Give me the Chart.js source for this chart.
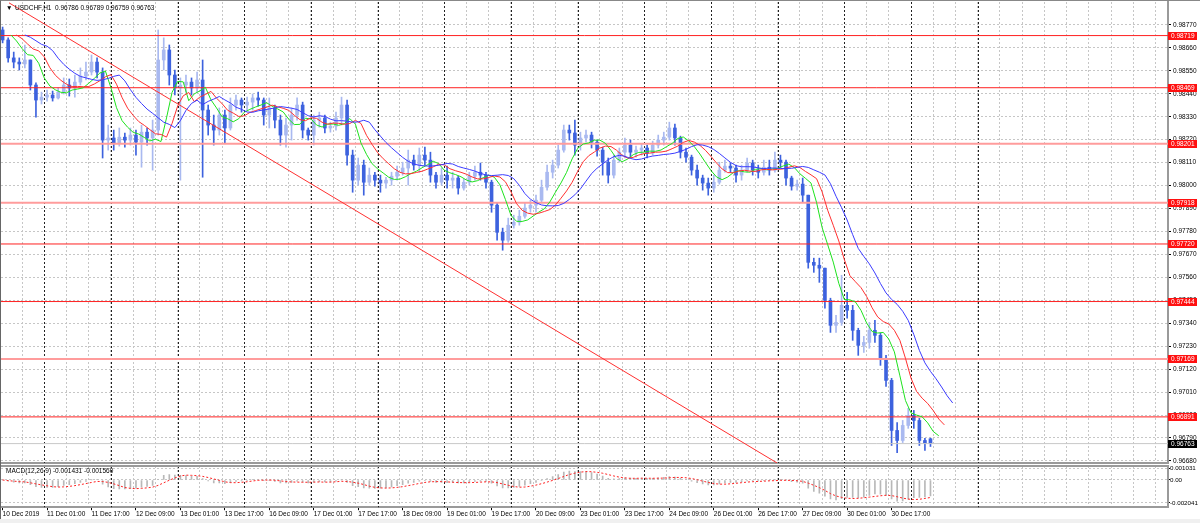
<!DOCTYPE html>
<html>
<head>
<meta charset="utf-8">
<script src="https://cdn.jsdelivr.net/npm/chart.js@4.4.1/dist/chart.umd.min.js"></script>
<style>
html, body { margin: 0; padding: 0; background: #fff; }
#wrap { position: relative; width: 1200px; height: 523px; overflow: hidden; background: #fff;
        font-family: "Liberation Sans", Arial, sans-serif; }
#main { position: absolute; left: 0; top: 0; }
#macd { position: absolute; left: 0; top: 465px; }
.lbl { position: absolute; font-size: 6.5px; line-height: 8px; color: #000; white-space: pre; }
#strip { position: absolute; left: 0; top: 519px; width: 1200px; height: 4px; background: #f0f0f0; }
#edge { position: absolute; left: 0; top: 0; width: 1199px; height: 518px; border-left: 1px solid #666; border-top: 1px solid #888; pointer-events: none; }
</style>
</head>
<body>
<div id="wrap">
  <canvas id="main" width="1200" height="465"></canvas>
  <canvas id="macd" width="1200" height="54"></canvas>
  <div class="lbl" style="left:6px;top:4px">▼</div>
  <div class="lbl" style="left:15px;top:4px">USDCHF,H1  0.96786 0.96789 0.96759 0.96763</div>
  <div class="lbl" style="left:6px;top:467px">MACD(12,26,9) -0.001431 -0.001560</div>
  <div id="strip"></div>
  <div id="edge"></div>
</div>
<script>
// USDCHF H1, 10 Dec 2019 09:00 .. 31 Dec, read as 2-hour candles

const tickLabels = ["10 Dec 2019", "11 Dec 01:00", "11 Dec 17:00", "12 Dec 09:00", "13 Dec 01:00",
    "13 Dec 17:00", "16 Dec 09:00", "17 Dec 01:00", "17 Dec 17:00", "18 Dec 09:00", "19 Dec 01:00",
    "19 Dec 17:00", "20 Dec 09:00", "23 Dec 01:00", "23 Dec 17:00", "24 Dec 09:00", "26 Dec 01:00",
    "26 Dec 17:00", "27 Dec 09:00", "30 Dec 01:00", "30 Dec 17:00"];

const priceTicks = [0.96680, 0.96790, 0.96900, 0.97010, 0.97120, 0.97230, 0.97340, 0.97450, 0.97560,
    0.97670, 0.97780, 0.97890, 0.98000, 0.98110, 0.98220, 0.98330, 0.98440, 0.98550, 0.98660, 0.98770];

const macdTicks = [0.001031, 0, -0.002041];

// horizontal levels drawn on the chart
const levels = [0.98719, 0.98469, 0.98201, 0.97918, 0.97720, 0.97444, 0.97169, 0.96891];
const lastPrice = 0.96763;

// trend line: [hour, price]
const trendLine = [[2.3, 0.98876], [278.8, 0.96670]];

const opens = [
    0.98746, 0.98698, 0.98612, 0.98592, 0.98583, 0.98602, 0.98482, 0.98410, 0.98424, 0.98434,
    0.98420, 0.98448, 0.98482, 0.98468, 0.98496, 0.98525, 0.98544, 0.98592, 0.98544, 0.98218,
    0.98228, 0.98204, 0.98232, 0.98218, 0.98242, 0.98208, 0.98256, 0.98228, 0.98266, 0.98602,
    0.98650, 0.98530, 0.98468, 0.98482, 0.98496, 0.98468, 0.98506, 0.98362, 0.98290, 0.98266,
    0.98338, 0.98276, 0.98386, 0.98410, 0.98386, 0.98400, 0.98420, 0.98410, 0.98338, 0.98372,
    0.98314, 0.98242, 0.98290, 0.98338, 0.98386, 0.98266, 0.98242, 0.98314, 0.98324, 0.98276,
    0.98285, 0.98324, 0.98386, 0.98146, 0.98026, 0.98098, 0.98016, 0.98050, 0.98026, 0.98012,
    0.98026, 0.98045, 0.98064, 0.98084, 0.98122, 0.98098, 0.98146, 0.98122, 0.98050, 0.98016,
    0.98050, 0.98026, 0.98036, 0.97988, 0.98016, 0.98045, 0.98064, 0.98050, 0.98016, 0.97906,
    0.97776, 0.97738, 0.97810, 0.97824, 0.97853, 0.97892, 0.97906, 0.97930, 0.97992, 0.98064,
    0.98098, 0.98170, 0.98266, 0.98252, 0.98194, 0.98228, 0.98242, 0.98208, 0.98170, 0.98112,
    0.98050, 0.98122, 0.98160, 0.98194, 0.98160, 0.98170, 0.98180, 0.98156, 0.98194, 0.98218,
    0.98232, 0.98276, 0.98228, 0.98160, 0.98136, 0.98074, 0.98036, 0.98012, 0.97988, 0.98016,
    0.98074, 0.98093, 0.98084, 0.98050, 0.98074, 0.98108, 0.98074, 0.98064, 0.98088, 0.98074,
    0.98122, 0.98112, 0.98036, 0.97997, 0.98007, 0.97954, 0.97632, 0.97618, 0.97604, 0.97450,
    0.97330, 0.97344, 0.97426, 0.97402, 0.97306, 0.97234, 0.97248, 0.97306, 0.97282, 0.97172,
    0.97066, 0.96826, 0.96778, 0.96850, 0.96898, 0.96874, 0.96778, 0.96786];

const highs = [
    0.98760, 0.98708, 0.98640, 0.98612, 0.98674, 0.98602, 0.98492, 0.98448, 0.98458, 0.98453,
    0.98468, 0.98516, 0.98511, 0.98530, 0.98564, 0.98592, 0.98626, 0.98612, 0.98564, 0.98290,
    0.98266, 0.98276, 0.98252, 0.98276, 0.98266, 0.98290, 0.98276, 0.98314, 0.98746, 0.98708,
    0.98674, 0.98554, 0.98516, 0.98530, 0.98516, 0.98544, 0.98602, 0.98386, 0.98338, 0.98372,
    0.98362, 0.98420, 0.98434, 0.98420, 0.98424, 0.98439, 0.98448, 0.98420, 0.98420, 0.98386,
    0.98338, 0.98324, 0.98372, 0.98420, 0.98400, 0.98276, 0.98338, 0.98352, 0.98338, 0.98304,
    0.98352, 0.98424, 0.98410, 0.98170, 0.98132, 0.98122, 0.98084, 0.98064, 0.98050, 0.98040,
    0.98064, 0.98093, 0.98112, 0.98170, 0.98146, 0.98180, 0.98184, 0.98160, 0.98064, 0.98084,
    0.98093, 0.98064, 0.98045, 0.98031, 0.98064, 0.98093, 0.98108, 0.98064, 0.98026, 0.97916,
    0.97796, 0.97844, 0.97858, 0.97882, 0.97920, 0.97930, 0.97954, 0.98026, 0.98098, 0.98122,
    0.98194, 0.98290, 0.98290, 0.98314, 0.98256, 0.98266, 0.98256, 0.98218, 0.98184, 0.98132,
    0.98146, 0.98180, 0.98228, 0.98218, 0.98189, 0.98199, 0.98194, 0.98213, 0.98242, 0.98256,
    0.98304, 0.98295, 0.98237, 0.98180, 0.98146, 0.98098, 0.98050, 0.98036, 0.98050, 0.98112,
    0.98122, 0.98108, 0.98098, 0.98098, 0.98132, 0.98122, 0.98098, 0.98122, 0.98122, 0.98160,
    0.98146, 0.98122, 0.98045, 0.98026, 0.98036, 0.97954, 0.97652, 0.97652, 0.97604, 0.97460,
    0.97378, 0.97570, 0.97488, 0.97426, 0.97316, 0.97277, 0.97344, 0.97354, 0.97292, 0.97186,
    0.97076, 0.96864, 0.96874, 0.96932, 0.96922, 0.96884, 0.96788, 0.96789];

const lows = [
    0.98684, 0.98592, 0.98564, 0.98554, 0.98564, 0.98458, 0.98328, 0.98391, 0.98405, 0.98405,
    0.98415, 0.98439, 0.98429, 0.98424, 0.98482, 0.98506, 0.98530, 0.98516, 0.98132, 0.98170,
    0.98170, 0.98189, 0.98184, 0.98194, 0.98146, 0.98088, 0.98194, 0.98074, 0.98242, 0.98554,
    0.98482, 0.98434, 0.98026, 0.98448, 0.98434, 0.98448, 0.98040, 0.98242, 0.98194, 0.98242,
    0.98204, 0.98266, 0.98362, 0.98352, 0.98362, 0.98362, 0.98381, 0.98290, 0.98276, 0.98276,
    0.98194, 0.98184, 0.98218, 0.98314, 0.98228, 0.98218, 0.98194, 0.98280, 0.98252, 0.98256,
    0.98266, 0.98290, 0.98098, 0.97968, 0.98002, 0.97954, 0.98002, 0.97997, 0.97968, 0.97988,
    0.98002, 0.98026, 0.98050, 0.98002, 0.98074, 0.98064, 0.98098, 0.98016, 0.97988, 0.98002,
    0.97988, 0.97988, 0.97959, 0.97978, 0.98002, 0.98026, 0.98026, 0.97988, 0.97872, 0.97738,
    0.97690, 0.97728, 0.97796, 0.97810, 0.97844, 0.97872, 0.97872, 0.97916, 0.97978, 0.98036,
    0.98084, 0.98160, 0.98218, 0.98146, 0.98170, 0.98208, 0.98180, 0.98141, 0.98050, 0.98012,
    0.98036, 0.98112, 0.98132, 0.98132, 0.98136, 0.98146, 0.98132, 0.98146, 0.98180, 0.98194,
    0.98218, 0.98194, 0.98132, 0.98112, 0.98050, 0.98002, 0.97978, 0.97954, 0.97968, 0.98007,
    0.98064, 0.98064, 0.98016, 0.98026, 0.98064, 0.98050, 0.98036, 0.98050, 0.98050, 0.98064,
    0.98084, 0.98002, 0.97978, 0.97978, 0.97920, 0.97604, 0.97584, 0.97536, 0.97412, 0.97296,
    0.97296, 0.97330, 0.97364, 0.97258, 0.97186, 0.97200, 0.97220, 0.97248, 0.97138, 0.97037,
    0.96754, 0.96720, 0.96768, 0.96836, 0.96836, 0.96754, 0.96730, 0.96749];

const closes = [
    0.98698, 0.98612, 0.98592, 0.98583, 0.98602, 0.98482, 0.98410, 0.98424, 0.98434, 0.98420,
    0.98448, 0.98482, 0.98468, 0.98496, 0.98525, 0.98544, 0.98592, 0.98544, 0.98218, 0.98228,
    0.98204, 0.98232, 0.98218, 0.98242, 0.98208, 0.98256, 0.98228, 0.98266, 0.98602, 0.98650,
    0.98530, 0.98468, 0.98482, 0.98496, 0.98468, 0.98506, 0.98362, 0.98290, 0.98266, 0.98338,
    0.98276, 0.98386, 0.98410, 0.98386, 0.98400, 0.98420, 0.98410, 0.98338, 0.98372, 0.98314,
    0.98242, 0.98290, 0.98338, 0.98386, 0.98266, 0.98242, 0.98314, 0.98324, 0.98276, 0.98285,
    0.98324, 0.98386, 0.98146, 0.98026, 0.98098, 0.98016, 0.98050, 0.98026, 0.98012, 0.98026,
    0.98045, 0.98064, 0.98084, 0.98122, 0.98098, 0.98146, 0.98122, 0.98050, 0.98016, 0.98050,
    0.98026, 0.98036, 0.97988, 0.98016, 0.98045, 0.98064, 0.98050, 0.98016, 0.97906, 0.97776,
    0.97738, 0.97810, 0.97824, 0.97853, 0.97892, 0.97906, 0.97930, 0.97992, 0.98064, 0.98098,
    0.98170, 0.98266, 0.98252, 0.98194, 0.98228, 0.98242, 0.98208, 0.98170, 0.98112, 0.98050,
    0.98122, 0.98160, 0.98194, 0.98160, 0.98170, 0.98180, 0.98156, 0.98194, 0.98218, 0.98232,
    0.98276, 0.98228, 0.98160, 0.98136, 0.98074, 0.98036, 0.98012, 0.97988, 0.98016, 0.98074,
    0.98093, 0.98084, 0.98050, 0.98074, 0.98108, 0.98074, 0.98064, 0.98088, 0.98074, 0.98122,
    0.98112, 0.98036, 0.97997, 0.98007, 0.97954, 0.97632, 0.97618, 0.97604, 0.97450, 0.97330,
    0.97344, 0.97426, 0.97402, 0.97306, 0.97234, 0.97248, 0.97306, 0.97282, 0.97172, 0.97066,
    0.96826, 0.96778, 0.96850, 0.96898, 0.96874, 0.96778, 0.96764, 0.96763];

// x axis is in trading hours counted from 10 Dec 09:00
const X_MIN = -0.58, X_MAX = 419.5;
const hourOf = i => i * 2;

const FONT = '"Liberation Sans", Arial, sans-serif';
Chart.defaults.font.family = FONT;
Chart.defaults.font.size = 6.5;
Chart.defaults.color = "#000";

const isUp = i => closes[i] >= opens[i];
const candleColor = ctx => isUp(ctx.dataIndex) ? "#a9b9f0" : "#3d62de";

// indicators, computed from the candles (Alligator on median price, MACD on close)
function smma(src, n) { let v = src[0]; return src.map((s, i) => (v = i === 0 ? s : (v * (n - 1) + s) / n)); }
function ema(src, n) { const a = 2 / (n + 1); let v = src[0]; return src.map((s, i) => (v = i === 0 ? s : v + a * (s - v))); }
function sma(src, n) {
    return src.map((_, i) => {
        const from = Math.max(0, i - n + 1);
        let s = 0;
        for (let k = from; k <= i; k++) s += src[k];
        return s / (i - from + 1);
    });
}
const median = highs.map((h, i) => (h + lows[i]) / 2);
const shifted = (arr, sh) => arr.map((v, i) => ({ x: hourOf(i) + sh, y: v }));
const jaw = shifted(smma(median, 6.5), 8);
const teeth = shifted(smma(median, 4), 5);
const lips = shifted(smma(median, 2.5), 3);

const emaFast = ema(closes, 6.5), emaSlow = ema(closes, 13.5);
const macdMain = emaFast.map((v, i) => v - emaSlow[i]);
const macdSignal = sma(macdMain, 5);

// shared x axis pieces
const gridAxis = {
    type: "linear", min: X_MIN, max: X_MAX, offset: false,
    afterBuildTicks: s => { s.ticks = []; for (let h = 7; h <= X_MAX; h += 8) s.ticks.push({ value: h }); },
    ticks: { display: false },
    grid: { color: "#c6c6c6", drawTicks: false, offset: false },
    border: { display: true, color: "#9a9a9a", width: 2, dash: [2, 2] }
};

const daySeparators = {
    id: "daySeparators",
    beforeDatasetsDraw(chart) {
        const { ctx, chartArea: a, scales: { x } } = chart;
        ctx.save();
        ctx.strokeStyle = "#222";
        ctx.lineWidth = 1;
        ctx.setLineDash([2, 2]);
        for (let h = 15; h <= 351; h += 24) {
            const px = Math.round(x.getPixelForValue(h)) + 0.5;
            ctx.beginPath();
            ctx.moveTo(px, a.top);
            ctx.lineTo(px, a.bottom);
            ctx.stroke();
        }
        ctx.restore();
    }
};

function tag(ctx, y, text, bg) {
    ctx.fillStyle = bg;
    ctx.fillRect(1168, Math.round(y) - 4, 29, 8);
    ctx.fillStyle = "#fff";
    ctx.textBaseline = "middle";
    ctx.fillText(text, 1171, Math.round(y) + 0.5);
}

const levelTags = {
    id: "levelTags",
    afterDraw(chart) {
        const { ctx, scales: { y } } = chart;
        ctx.save();
        ctx.font = "6.5px " + FONT;
        levels.forEach(p => tag(ctx, y.getPixelForValue(p), p.toFixed(5), "#ff1010"));
        tag(ctx, y.getPixelForValue(lastPrice), lastPrice.toFixed(5), "#000");
        ctx.restore();
    }
};

const frame = {
    id: "frame",
    afterDraw(chart) {
        const { ctx, chartArea: a } = chart;
        ctx.save();
        ctx.strokeStyle = "#9a9a9a";
        ctx.lineWidth = 2;
        ctx.beginPath();
        ctx.moveTo(a.left, a.top);
        ctx.lineTo(a.right, a.top);
        ctx.stroke();
        ctx.restore();
    }
};

const paleLevels = [2, 3, 6];
const flat = y => [{ x: X_MIN, y }, { x: X_MAX, y }];

const line = (data, color, extra) => Object.assign({
    type: "line", data, borderColor: color, borderWidth: 1, pointRadius: 0, tension: 0, fill: false
}, extra || {});

new Chart(document.getElementById("main"), {
    type: "bar",
    data: {
        datasets: [
            { type: "bar", data: highs.map((h, i) => ({ x: hourOf(i), y: [lows[i], h] })),
              backgroundColor: candleColor, barThickness: 1, grouped: false, order: 6 },
            { type: "bar", data: opens.map((o, i) => ({ x: hourOf(i), y: [o, closes[i]] })),
              backgroundColor: candleColor, barThickness: 3, grouped: false, order: 5 },
            ...levels.map((p, k) => line(flat(p), paleLevels.includes(k) ? "#ff9c9c" : "#ff2020",
                { borderWidth: paleLevels.includes(k) ? 2 : 1, order: 4 })),
            line(flat(lastPrice), "#c8c8c8", { order: 4 }),
            line(trendLine.map(([x, y]) => ({ x, y })), "#ff3030", { order: 3 }),
            line(jaw, "#3b3bff", { order: 1 }),
            line(teeth, "#ff3030", { order: 1 }),
            line(lips, "#1ee21e", { order: 1 })
        ]
    },
    options: {
        responsive: false,
        animation: false,
        events: [],
        layout: { padding: { left: 1, top: 2, right: 0, bottom: 2 } },
        plugins: { legend: { display: false }, tooltip: { enabled: false } },
        scales: {
            x: gridAxis,
            y: {
                position: "right", min: 0.96670, max: 0.98880,
                afterBuildTicks: s => { s.ticks = priceTicks.map(v => ({ value: v })); },
                afterFit: s => { s.width = 32; s.paddingTop = 0; s.paddingBottom = 0; },
                ticks: { callback: v => v.toFixed(5), padding: 2, autoSkip: false },
                grid: { color: "#c6c6c6", tickColor: "#000", tickLength: 3, tickBorderDash: [] },
                border: { color: "#9a9a9a", width: 2, dash: [2, 2] }
            }
        }
    },
    plugins: [daySeparators, levelTags]
});

new Chart(document.getElementById("macd"), {
    type: "bar",
    data: {
        datasets: [
            { type: "bar", data: macdMain.map((v, i) => ({ x: hourOf(i), y: v })),
              backgroundColor: "#b8b8b8", barThickness: 1, order: 2 },
            line(macdSignal.map((v, i) => ({ x: hourOf(i), y: v })), "#ff2020", { borderDash: [2, 2], order: 1 })
        ]
    },
    options: {
        responsive: false,
        animation: false,
        events: [],
        layout: { padding: { left: 1, top: 1, right: 0, bottom: 1 } },
        plugins: { legend: { display: false }, tooltip: { enabled: false } },
        scales: {
            x: gridAxis,
            xl: {
                type: "linear", position: "bottom", min: X_MIN, max: X_MAX, offset: false,
                afterBuildTicks: s => { s.ticks = tickLabels.map((_, k) => ({ value: 16 * k })); },
                ticks: { callback: (v, i) => tickLabels[i], align: "start", autoSkip: false, maxRotation: 0, padding: 0 },
                grid: { drawOnChartArea: false, tickLength: 3, color: "#000", offset: false },
                border: { display: false }
            },
            y: {
                position: "right", min: -0.00243, max: 0.00125,
                afterBuildTicks: s => { s.ticks = macdTicks.map(v => ({ value: v })); },
                afterFit: s => { s.width = 32; s.paddingTop = 0; s.paddingBottom = 0; },
                ticks: { callback: v => v === 0 ? "0.00" : v.toFixed(6), padding: 0, autoSkip: false,
                         font: { size: 6.2 } },
                grid: { color: "#c6c6c6", tickColor: "#000", tickLength: 2, tickBorderDash: [] },
                border: { color: "#9a9a9a", width: 2, dash: [2, 2] }
            }
        }
    },
    plugins: [daySeparators, frame]
});
</script>
</body>
</html>
